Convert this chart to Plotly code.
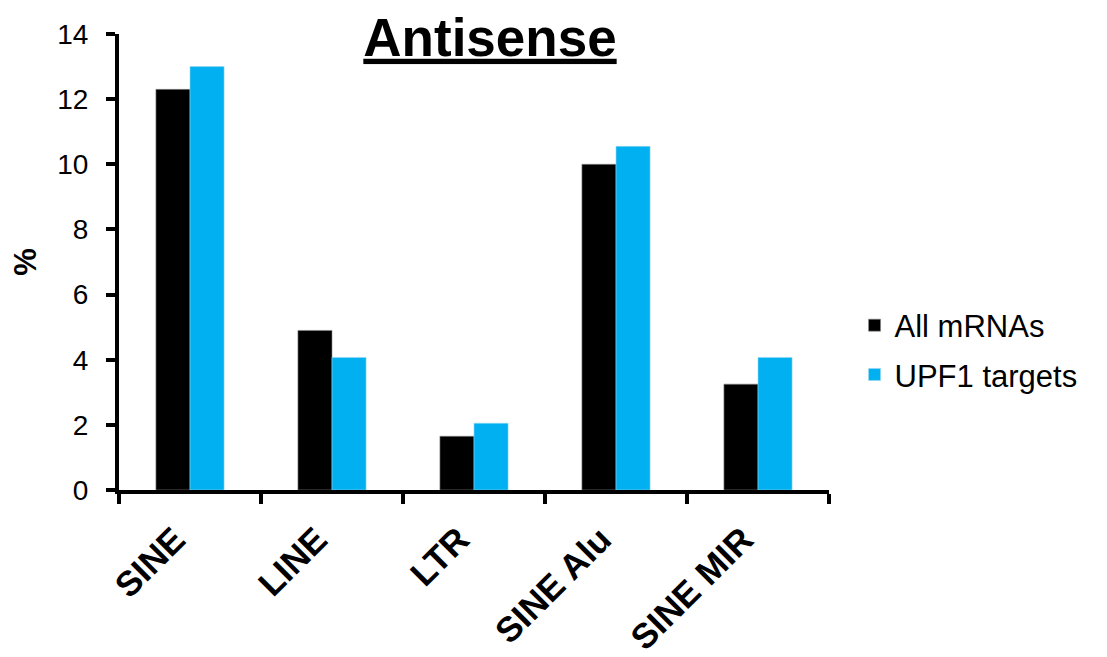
import plotly.graph_objects as go

categories = ["SINE", "LINE", "LTR", "SINE Alu", "SINE MIR"]
all_mrnas = [12.3, 4.9, 1.65, 10.0, 3.25]
upf1_targets = [13.0, 4.07, 2.05, 10.55, 4.07]

_FONT = "Arial, Liberation Sans, sans-serif"
_BLACK = "#000000"
_CYAN = "#00B0F0"

fig = go.Figure()
fig.add_trace(go.Bar(
    x=categories, y=all_mrnas, name="All mRNAs", legendgroup="a",
    marker=dict(color=_BLACK, line=dict(color="#8a8a8a", width=0.6)),
))
fig.add_trace(go.Bar(
    x=categories, y=upf1_targets, name="UPF1 targets", legendgroup="b",
    marker=dict(color=_CYAN, line=dict(color="#9ad8f0", width=0.6)),
))

# the page body adds an 8px margin, so the figure is a bit smaller than the window
fig.update_layout(
    width=1099,
    height=649,
    margin=dict(l=111, r=278, t=26, b=167),
    paper_bgcolor="white",
    plot_bgcolor="white",
    barmode="group",
    bargap=0.52,
    bargroupgap=0,
    font=dict(family=_FONT, color="black"),
    title=dict(
        text="<b><u>Antisense</u></b>",
        font=dict(size=53, family=_FONT),
        x=482 / 1099, xref="container", xanchor="center",
        y=0.955, yref="container", yanchor="middle",
    ),
    legend=dict(
        x=1.036, y=0.307, xanchor="left", yanchor="middle",
        font=dict(size=31),
        traceorder="grouped", tracegroupgap=6,
        bgcolor="rgba(0,0,0,0)",
    ),
)
fig.update_yaxes(
    range=[0, 14], dtick=2, showgrid=False, zeroline=False, automargin=False,
    showline=True, linecolor="black", linewidth=4,
    ticks="outside", ticklen=9, tickwidth=4, tickcolor="black",
    ticklabelstandoff=12,
    tickfont=dict(size=28),
    title=dict(text="<b>%</b>", font=dict(size=31), standoff=18),
)
fig.update_xaxes(
    showgrid=False, showline=True, linecolor="black", linewidth=4, automargin=False,
    ticks="outside", tickson="boundaries", ticklen=10, tickwidth=4, tickcolor="black",
    tickangle=-45, tickfont=dict(size=35),
    ticklabelstandoff=11, ticklabelshift=-15,
    ticktext=[f"<b>{c}</b>" for c in categories], tickvals=categories,
)

fig.write_html("out.html")
